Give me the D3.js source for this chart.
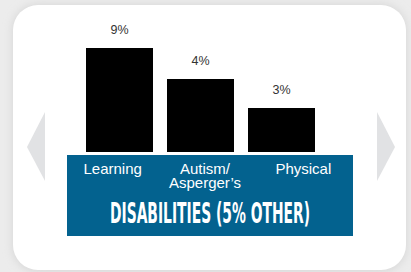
<!DOCTYPE html>
<html>
<head>
<meta charset="utf-8">
<script src="https://cdn.jsdelivr.net/npm/d3@7"></script>
<style>
  html, body { margin: 0; padding: 0; background: #ececec; }
  svg { display: block; }
</style>
</head>
<body>
<div id="chart"></div>
<script>
// chart data
const categories = ["Learning", "Autism/\nAsperger\u2019s", "Physical"];
const values = [9, 4, 3];
const valueLabels = ["9%", "4%", "3%"];
const title = "DISABILITIES (5% OTHER)";

const width = 411, height = 272;

const svg = d3.select("#chart").append("svg")
	.attr("width", width)
	.attr("height", height);

// soft shadow behind the card
const defs = svg.append("defs");
const blur = defs.append("filter").attr("id", "shadow")
	.attr("x", "-10%").attr("y", "-10%").attr("width", "120%").attr("height", "120%");
blur.append("feGaussianBlur").attr("stdDeviation", 4);

svg.append("rect")
	.attr("x", 12).attr("y", 4).attr("width", 395).attr("height", 268)
	.attr("rx", 26)
	.attr("fill", "#d8d8d8")
	.attr("filter", "url(#shadow)");

svg.append("rect")
	.attr("x", 13).attr("y", 5).attr("width", 393).attr("height", 265)
	.attr("rx", 25)
	.attr("fill", "#ffffff");

// nav arrows
const arrow = d3.line();
svg.append("path")
	.attr("d", arrow([[45, 112], [27, 147], [45, 181]]) + "Z")
	.attr("fill", "#e1e2e4");
svg.append("path")
	.attr("d", arrow([[377, 112], [395, 147], [377, 181]]) + "Z")
	.attr("fill", "#e1e2e4");

// scales
const x = d3.scaleBand()
	.domain(categories)
	.range([86, 315])
	.paddingInner(14 / 81)
	.paddingOuter(0);

// bar heights in the picture are not proportional to the labels,
// so the scale is piecewise through the values
const baseline = 152;
const y = d3.scaleLinear()
	.domain([0, 3, 4, 9])
	.range([baseline, 108, 79, 48]);

// blue panel
const panel = { x: 67, y: 155, w: 286, h: 81 };
svg.append("rect")
	.attr("x", panel.x).attr("y", panel.y)
	.attr("width", panel.w).attr("height", panel.h)
	.attr("fill", "#03628f");

const xl = d3.scaleBand()
	.domain(categories)
	.range([panel.x - 2, panel.x + panel.w - 2]);

// bars
svg.selectAll("rect.bar")
	.data(values)
	.join("rect")
	.attr("class", "bar")
	.attr("x", (d, i) => x(categories[i]))
	.attr("y", d => y(d))
	.attr("width", x.bandwidth())
	.attr("height", d => baseline - y(d))
	.attr("fill", "#000000");

// value labels
svg.selectAll("text.val")
	.data(values)
	.join("text")
	.attr("class", "val")
	.text((d, i) => valueLabels[i])
	.attr("x", (d, i) => x(categories[i]) + x.bandwidth() / 2)
	.attr("y", d => y(d) - 14)
	.attr("text-anchor", "middle")
	.attr("font-family", "Liberation Sans, Arial, sans-serif")
	.attr("font-size", "12.5px")
	.attr("fill", "#333333");

// category labels
const labels = svg.selectAll("text.cat")
	.data(categories)
	.join("text")
	.attr("class", "cat")
	.attr("text-anchor", "middle")
	.attr("font-family", "Liberation Sans, Arial, sans-serif")
	.attr("font-size", "15px")
	.attr("fill", "#ffffff");

labels.each(function (d) {
	const lines = d.split("\n");
	const cx = xl(d) + xl.bandwidth() / 2 - (lines.length > 1 ? 3 : 0);
	d3.select(this).selectAll("tspan")
		.data(lines)
		.join("tspan")
		.attr("x", cx)
		.attr("y", (l, i) => 174 + i * 14)
		.text(l => l);
});

// title
svg.append("text")
	.text(title)
	.attr("x", panel.x + panel.w / 2)
	.attr("y", 223)
	.attr("text-anchor", "middle")
	.attr("textLength", 200)
	.attr("lengthAdjust", "spacingAndGlyphs")
	.attr("font-family", "Liberation Sans Narrow, DejaVu Sans Condensed, Arial Narrow, sans-serif")
	.attr("font-weight", "bold")
	.attr("font-size", "24px")
	.attr("transform", "translate(0,223) scale(1,1.2) translate(0,-223)")
	.attr("fill", "#ffffff");
</script>
</body>
</html>
